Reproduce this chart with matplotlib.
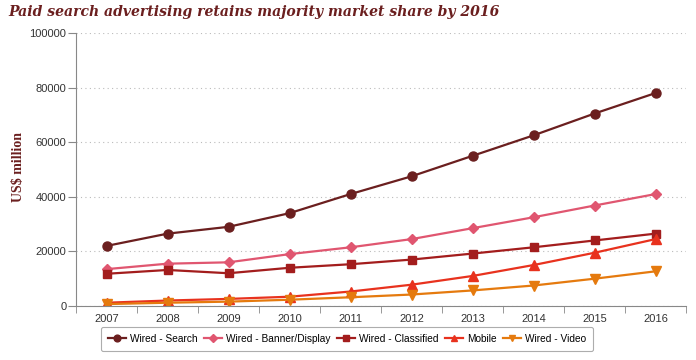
import numpy as np
import matplotlib.pyplot as plt

years = ['2007', '2008', '2009', '2010', '2011', '2012', '2013', '2014', '2015', '2016']
search = [22000, 26500, 29000, 34000, 41000, 47500, 55000, 62500, 70500, 78000]
banner = [13500, 15500, 16000, 19000, 21500, 24500, 28500, 32500, 36800, 41000]
classified = [11800, 13200, 12000, 14000, 15300, 17000, 19200, 21500, 24000, 26500]
mobile = [1200, 2000, 2600, 3400, 5300, 7800, 11000, 15000, 19500, 24500]
video = [700, 1200, 1600, 2300, 3200, 4200, 5700, 7500, 10000, 12700]

series = [
    ('Wired - Search', search, '#6b1f1f', 'o', 6.5),
    ('Wired - Banner/Display', banner, '#e05670', 'D', 5),
    ('Wired - Classified', classified, '#a31d1d', 's', 5.5),
    ('Mobile', mobile, '#e8321e', '^', 6.5),
    ('Wired - Video', video, '#e57a0e', 'v', 6.5),
]

plt.rcParams['font.family'] = ['Liberation Sans', 'DejaVu Sans']

fig = plt.figure(figsize=(6.96, 3.6), dpi=100)
ax = fig.add_axes([76 / 696, 1 - 306 / 360, 610 / 696, 273 / 360])

x = np.arange(len(years))
for name, vals, col, mk, ms in series:
    ax.plot(x, vals, color=col, marker=mk, markersize=ms, linewidth=1.6, label=name)

ax.set_xlim(-0.5, len(years) - 0.5)
ax.set_ylim(0, 100000)
ax.set_yticks(np.arange(0, 100001, 20000))
ax.set_xticks(x)
ax.set_xticklabels(years)
ax.set_xticks(np.arange(-0.5, len(years), 1), minor=True)
ax.tick_params(axis='x', which='major', length=0, labelsize=8, colors='#333333', pad=6)
ax.tick_params(axis='x', which='minor', length=5, color='#888888')
ax.tick_params(axis='y', length=6, pad=1, color='#888888', labelsize=8, labelcolor='#333333')
ax.grid(axis='y', linestyle=(0, (1, 3)), color='#bbbbbb', linewidth=0.8)
for s in ['top', 'right']:
    ax.spines[s].set_visible(False)
for s in ['left', 'bottom']:
    ax.spines[s].set_color('#888888')

ax.set_ylabel('US$ million', fontsize=10, color='#6b1f1f', fontweight='bold',
              family=['Liberation Serif', 'DejaVu Serif'])
ax.yaxis.set_label_coords(-51 / 610, 0.51)

fig.text(8 / 696, 1 - 12 / 360, 'Paid search advertising retains majority market share by 2016',
         fontsize=10.1, fontweight='bold', fontstyle='italic', color='#6b1f1f',
         family=['DejaVu Serif'], va='center', ha='left')

leg = fig.legend(loc='center', bbox_to_anchor=(347 / 696, 1 - 339 / 360), ncol=5,
                 fontsize=7.3, frameon=True, handlelength=1.8, handletextpad=0.4,
                 columnspacing=0.6, markerscale=0.75, borderpad=0.7)
leg.get_frame().set_edgecolor('#999999')
leg.get_frame().set_linewidth(0.8)

fig.savefig('out.png', dpi=100)
